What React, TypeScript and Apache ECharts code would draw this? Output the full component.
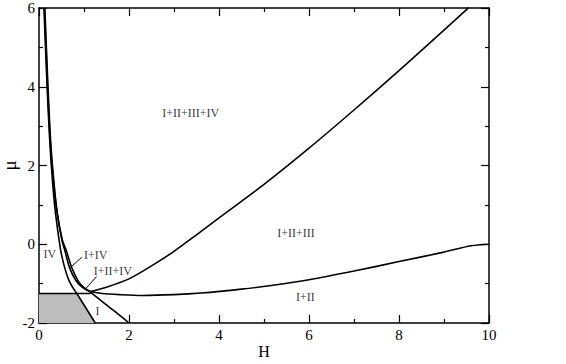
import React, { useEffect, useRef } from "react";
import * as echarts from "echarts";

// Phase boundary curves: [H, mu]
const curveA: number[][] = [
  [0.11, 6], [0.18, 4], [0.24, 2.6], [0.3, 1.6], [0.37, 0.75], [0.48, -0.14],
  [0.56, -0.55], [0.65, -0.88], [0.74, -1.08], [0.84, -1.25], [1.25, -2],
];
const curveB: number[][] = [
  [0.12, 6], [0.19, 4], [0.25, 2.6], [0.32, 1.6], [0.41, 0.75], [0.52, 0.1], [0.6, -0.14],
  [0.73, -0.6], [0.88, -0.95], [1.0, -1.1], [1.15, -1.22], [1.4, -1.45], [1.7, -1.72], [2.0, -2],
];
const curveD: number[][] = [
  [0.13, 6], [0.2, 4], [0.26, 2.6], [0.33, 1.6], [0.41, 0.75], [0.51, 0.1], [0.57, -0.14],
  [0.68, -0.6], [0.82, -0.92], [0.97, -1.1], [1.15, -1.2], [1.4, -1.25], [1.8, -1.28],
  [2.3, -1.3], [3.0, -1.28], [3.6, -1.24], [4.5, -1.14], [5.2, -1.04], [6.0, -0.9],
  [7.0, -0.68], [8.0, -0.44], [9.0, -0.2], [9.6, -0.04], [10, 0.0],
];
const curveC: number[][] = [
  [1.15, -1.2], [1.5, -1.09], [2.0, -0.88], [2.5, -0.55], [3.0, -0.18], [3.5, 0.24],
  [4.0, 0.67], [5.0, 1.52], [6.0, 2.44], [7.0, 3.41], [8.0, 4.41], [9.0, 5.44], [9.5, 5.96], [9.55, 6.02],
];
const shelf: number[][] = [[0, -1.25], [1.15, -1.25]];
const grayRegion: number[][] = [[0, -1.25], [0.84, -1.25], [1.25, -2]];

const regionLabels: (number | string)[][] = [
  [3.37, 3.34, "I+II+III+IV"],
  [5.71, 0.28, "I+II+III"],
  [5.92, -1.34, "I+II"],
  [0.24, -0.24, "IV"],
  [1.26, -0.27, "I+IV"],
  [1.64, -0.69, "I+II+IV"],
  [1.3, -1.7, "I"],
];
const pointerIIV: number[][] = [[0.95, -0.33], [0.69, -0.6]];
const pointerIIIIV: number[][] = [[1.28, -0.82], [1.02, -1.15]];

const xTicks = { min: 0, max: 10, interval: 2 };
const yTicks = { min: -2, max: 6, interval: 2 };

const FONT = "Liberation Serif";

export default function App() {
  const ref = useRef<HTMLDivElement>(null);
  useEffect(() => {
    if (!ref.current) return;
    document.body.style.margin = "0";
    const chart = echarts.init(ref.current, null, { renderer: "svg" });
    const axisLine = { show: true, onZero: false, lineStyle: { color: "#000", width: 1.5 } };
    const axisTick = { show: true, inside: true, length: 8, lineStyle: { color: "#000", width: 1.2 } };
    const minorTick = { show: true, splitNumber: 2, length: 4, lineStyle: { color: "#000", width: 1.2 } };
    const curve = (data: number[][]) => ({
      type: "line",
      data,
      showSymbol: false,
      symbol: "none",
      smooth: 0.3,
      lineStyle: { color: "#000", width: 1.6 },
      z: 3,
    });
    const straight = (data: number[][], w = 1.6) => ({
      type: "line",
      data,
      showSymbol: false,
      symbol: "none",
      lineStyle: { color: "#000", width: w },
      z: 3,
    });
    chart.setOption({
      animation: false,
      grid: { left: 39, right: 77, top: 8, bottom: 41, containLabel: false, outerBoundsMode: "none" },
      xAxis: [
        {
          type: "value",
          ...xTicks,
          name: "H",
          nameLocation: "middle",
          nameGap: 20,
          nameMoveOverlap: false,
          nameTextStyle: { fontFamily: FONT, fontSize: 16, color: "#000" },
          axisLine,
          axisTick,
          minorTick: { ...minorTick },
          splitLine: { show: false },
          axisLabel: { fontFamily: FONT, fontSize: 15, color: "#000", margin: 4 },
        },
        {
          type: "value",
          ...xTicks,
          position: "top",
          axisLine,
          axisTick,
          minorTick: { ...minorTick },
          splitLine: { show: false },
          axisLabel: { show: false },
        },
      ],
      yAxis: [
        {
          type: "value",
          ...yTicks,
          name: "μ",
          nameLocation: "middle",
          nameGap: 20,
          nameMoveOverlap: false,
          nameRotate: 90,
          nameTextStyle: { fontFamily: FONT, fontSize: 19, color: "#000" },
          axisLine,
          axisTick,
          minorTick: { ...minorTick },
          splitLine: { show: false },
          axisLabel: { fontFamily: FONT, fontSize: 15, color: "#000", margin: 4 },
        },
        {
          type: "value",
          ...yTicks,
          position: "right",
          axisLine,
          axisTick,
          minorTick: { ...minorTick },
          splitLine: { show: false },
          axisLabel: { show: false },
        },
      ],
      series: [
        {
          type: "line",
          data: grayRegion,
          showSymbol: false,
          symbol: "none",
          lineStyle: { width: 0 },
          areaStyle: { color: "#bdbdbd", opacity: 1, origin: "start" },
          z: 1,
        },
        curve(curveA),
        curve(curveB),
        curve(curveD),
        curve(curveC),
        straight(shelf),
        straight(pointerIIV, 1),
        straight(pointerIIIIV, 1),
        {
          type: "scatter",
          data: regionLabels,
          symbolSize: 1,
          itemStyle: { color: "rgba(0,0,0,0)" },
          label: {
            show: true,
            position: "inside",
            formatter: (p: any) => p.data[2],
            fontFamily: FONT,
            fontSize: 12,
            color: "#000",
          },
          z: 4,
        },
      ],
    });
    return () => chart.dispose();
  }, []);
  return <div ref={ref} style={{ width: 566, height: 364 }} />;
}
